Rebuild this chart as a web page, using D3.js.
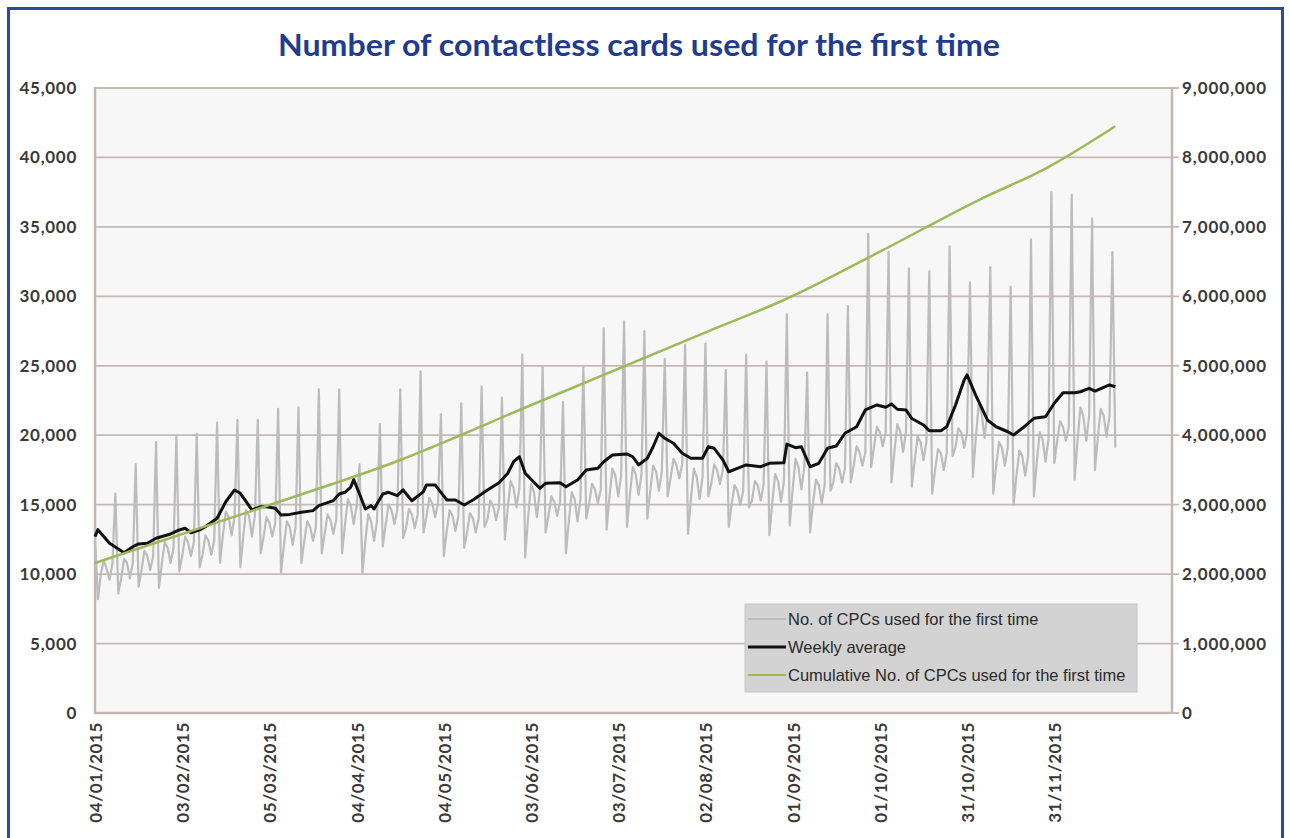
<!DOCTYPE html>
<html><head><meta charset="utf-8">
<script src="https://cdn.jsdelivr.net/npm/d3@7"></script>
<style>body{margin:0;background:#fff;} svg{display:block}</style>
</head><body><svg id="c" width="1290" height="838"></svg>
<script>
const titleText = "Number of contactless cards used for the first time";
const xTickDays = [0, 30, 60, 90, 120, 150, 180, 210, 240, 270, 300, 330];
const xTickLabels = ["04/01/2015","03/02/2015","05/03/2015","04/04/2015","04/05/2015","03/06/2015","03/07/2015","02/08/2015","01/09/2015","01/10/2015","31/10/2015","31/11/2015"];
const leftTicks = [0, 5000, 10000, 15000, 20000, 25000, 30000, 35000, 40000, 45000];
const rightTicks = [0, 1000000, 2000000, 3000000, 4000000, 5000000, 6000000, 7000000, 8000000, 9000000];
const legendLabels = ["No. of CPCs used for the first time", "Weekly average", "Cumulative No. of CPCs used for the first time"];

// daily number of CPCs used for the first time (one value per day from 04/01/2015)
const dailyValues = [
 12600, 8200, 10000, 11000, 10400, 9600, 10800,
 15800, 8600, 9700, 11100, 10800, 9700, 10800,
 17900, 9100, 10300, 11700, 11300, 10300, 11300,
 19500, 9000, 10800, 12300, 11900, 10800, 11900,
 19900, 10200, 11300, 12700, 12300, 11300, 12300,
 20100, 10500, 11400, 12800, 12400, 11400, 12400,
 20900, 10800, 12800, 14500, 14100, 12800, 14100,
 21100, 10500, 12700, 14600, 14200, 12700, 14200,
 21100, 11500, 12700, 14100, 13700, 12700, 13700,
 21900, 10100, 12100, 13800, 13400, 12100, 13400,
 22000, 10800, 12400, 13800, 13400, 12400, 13400,
 23300, 11500, 12900, 14300, 13900, 12900, 13900,
 23300, 11500, 13600, 15400, 14900, 13600, 14900,
 17900, 10100, 12400, 14300, 13800, 12400, 13800,
 20800, 12000, 13600, 15000, 14600, 13600, 14600,
 23300, 12600, 13300, 14700, 14300, 13300, 14300,
 24600, 13000, 14100, 15500, 15100, 14100, 15100,
 21500, 11300, 13100, 14600, 14200, 13100, 14200,
 22300, 11900, 13000, 14400, 14000, 13000, 14000,
 23500, 13400, 13900, 15300, 14900, 13900, 14900,
 22700, 12500, 14800, 16700, 16200, 14800, 16200,
 25800, 11200, 14100, 16500, 15900, 14100, 15900,
 24900, 13000, 14200, 15600, 15200, 14200, 15200,
 22400, 11500, 13800, 15900, 15400, 13800, 15400,
 24900, 14000, 15100, 16500, 16100, 15100, 16100,
 27700, 13200, 15600, 17600, 17100, 15600, 17100,
 28200, 13400, 15700, 17700, 17200, 15700, 17200,
 27500, 14000, 16000, 17800, 17400, 16000, 17400,
 25500, 15600, 16900, 18300, 17900, 16900, 17900,
 26500, 12900, 15400, 17600, 17000, 15400, 17000,
 26600, 15600, 16500, 17900, 17500, 16500, 17500,
 24700, 13400, 15000, 16400, 16000, 15000, 16000,
 25800, 14800, 15300, 16700, 16400, 15300, 16400,
 25300, 12800, 15200, 17200, 16700, 15200, 16700,
 28700, 13500, 16100, 18300, 17700, 16100, 17700,
 24500, 13000, 15100, 16800, 16400, 15100, 16400,
 28700, 16000, 16600, 18000, 17600, 16600, 17600,
 29300, 16600, 17800, 19200, 18800, 17800, 18800,
 34500, 17700, 19200, 20600, 20200, 19200, 20200,
 33200, 16600, 18800, 20800, 20300, 18800, 20300,
 32000, 16300, 18200, 19900, 19500, 18200, 19500,
 31800, 15800, 17500, 19000, 18700, 17500, 18700,
 33600, 18500, 19100, 20500, 20200, 19100, 20200,
 31000, 17000, 19800, 22200, 21600, 19800, 21600,
 32100, 15800, 17800, 19500, 19100, 17800, 19100,
 30700, 15000, 17100, 18900, 18500, 17100, 18500,
 34100, 15600, 18100, 20200, 19700, 18100, 19700,
 37500, 18000, 19600, 21000, 20600, 19600, 20600,
 37300, 16800, 19600, 22000, 21400, 19600, 21400,
 35600, 17500, 19900, 21900, 21400, 19900, 21400,
 33200, 19100
];

// weekly average, read at these day indexes
const avgDays = [0,1,5,10,13,15,18,21,26,29,31,33,36,38,42,45,48,50,54,57,59,62,64,67,71,75,77,82,84,86,88,89,91,93,95,96,99,101,104,106,109,113,114,117,121,124,127,130,135,139,142,144,146,148,153,155,160,162,166,169,173,175,178,183,185,187,190,192,194,196,199,202,205,209,211,213,216,218,221,224,229,232,237,238,241,243,244,246,249,252,255,258,262,265,269,272,274,276,279,281,285,287,291,293,296,299,300,303,307,310,314,316,319,323,327,330,333,337,339,342,344,347,349,351];
const avgValues = [12700,13200,12220,11540,11970,12170,12220,12580,12890,13180,13300,12980,13180,13410,14020,15210,16060,15820,14620,14850,14850,14740,14260,14300,14450,14570,14930,15290,15770,15890,16270,16800,15770,14690,14930,14690,15770,15890,15650,16060,15280,15940,16420,16420,15340,15340,14980,15340,16060,16580,17260,18090,18450,17260,16180,16540,16580,16290,16780,17500,17620,18090,18580,18650,18450,17860,18340,19170,20140,19780,19420,18700,18340,18340,19170,19060,18220,17370,17620,17860,17730,17980,18020,19360,19100,19170,18700,17730,17980,19060,19220,20140,20610,21820,22180,22010,22250,21870,21820,21200,20740,20330,20330,20610,22150,23980,24340,22870,21100,20610,20250,20020,20500,21220,21330,22300,23060,23060,23130,23380,23180,23450,23620,23490];

// cumulative number, read at these day indexes
const cumDays = [0, 67, 105, 115, 146, 215, 237, 270, 304, 327, 351];
const cumValues = [2160000, 3092000, 3643000, 3812000, 4363000, 5567000, 5947000, 6643000, 7387000, 7840000, 8450000];

const svg = d3.select('#c');
const X0 = 95, X1 = 1172, Y0 = 713, Y1 = 88;
const x = d3.scaleLinear().domain([0, 370.5]).range([X0, X1]);
const yL = d3.scaleLinear().domain([0, 45000]).range([Y0, Y1]);
const yR = d3.scaleLinear().domain([0, 9000000]).range([Y0, Y1]);
const fmt = d3.format(",");
const axisFont = 'Lato, sans-serif';

// outer frame
svg.append('rect').attr('x', 8.5).attr('y', 8.5).attr('width', 1274).attr('height', 860)
  .attr('fill', '#fff').attr('stroke', '#2b4a9b').attr('stroke-width', 3);

// title
svg.append('text').attr('x', 639).attr('y', 56).attr('text-anchor', 'middle')
  .attr('font-family', 'Lato, sans-serif').attr('font-weight', 'bold').attr('font-size', 30)
  .attr('textLength', 722).attr('lengthAdjust', 'spacingAndGlyphs')
  .attr('fill', '#1f3c8e').text(titleText);

// plot background
svg.append('rect').attr('x', X0).attr('y', Y1).attr('width', X1 - X0).attr('height', Y0 - Y1)
  .attr('fill', '#f7f7f7');

// gridlines + right ticks
svg.append('g').selectAll('line').data(leftTicks).join('line')
  .attr('x1', X0).attr('x2', X1 + 7)
  .attr('y1', d => yL(d)).attr('y2', d => yL(d))
  .attr('stroke', '#c6b8b4').attr('stroke-width', 1.8);

// axis lines
svg.append('line').attr('x1', X0).attr('x2', X0).attr('y1', Y1 - 1).attr('y2', Y0 + 1)
  .attr('stroke', '#c4b6b2').attr('stroke-width', 2.5);
svg.append('line').attr('x1', X1).attr('x2', X1).attr('y1', Y1 - 1).attr('y2', Y0 + 1)
  .attr('stroke', '#c4b6b2').attr('stroke-width', 2.5);
svg.append('line').attr('x1', X0).attr('x2', X1).attr('y1', Y0).attr('y2', Y0)
  .attr('stroke', '#c4b6b2').attr('stroke-width', 2.5);

// left labels
svg.append('g').selectAll('text').data(leftTicks).join('text')
  .attr('x', 77).attr('y', d => yL(d)).attr('dy', '0.35em').attr('text-anchor', 'end')
  .attr('font-family', axisFont).attr('font-weight', 'bold').attr('font-size', 17)
  .attr('letter-spacing', 0.7).attr('fill', '#3a3a3a')
  .text(d => fmt(d));
// right labels
svg.append('g').selectAll('text').data(rightTicks).join('text')
  .attr('x', 1182).attr('y', d => yR(d)).attr('dy', '0.35em').attr('text-anchor', 'start')
  .attr('font-family', axisFont).attr('font-weight', 'bold').attr('font-size', 17)
  .attr('letter-spacing', 0.9).attr('fill', '#3a3a3a')
  .text(d => fmt(d));
// x labels
svg.append('g').selectAll('text').data(xTickDays).join('text')
  .attr('transform', d => `translate(${x(d) + 1},722) rotate(-90)`)
  .attr('dy', '0.35em').attr('text-anchor', 'end')
  .attr('font-family', axisFont).attr('font-weight', 'bold').attr('font-size', 17)
  .attr('letter-spacing', 0.6).attr('fill', '#3a3a3a')
  .text((d, i) => xTickLabels[i]);

// series
const lineDaily = d3.line().x((d, i) => x(i)).y(d => yL(d));
svg.append('path').datum(dailyValues).attr('d', lineDaily)
  .attr('fill', 'none').attr('stroke', '#bcbcbc').attr('stroke-width', 2.2).attr('stroke-linejoin', 'round');

const lineAvg = d3.line().x((d, i) => x(avgDays[i])).y(d => yL(d));
svg.append('path').datum(avgValues).attr('d', lineAvg)
  .attr('fill', 'none').attr('stroke', '#111').attr('stroke-width', 3).attr('stroke-linejoin', 'round');

const lineCum = d3.line().x((d, i) => x(cumDays[i])).y(d => yR(d)).curve(d3.curveMonotoneX);
svg.append('path').datum(cumValues).attr('d', lineCum)
  .attr('fill', 'none').attr('stroke', '#9bbb59').attr('stroke-width', 2.5);

// legend
const lg = svg.append('g');
lg.append('rect').attr('x', 745).attr('y', 604).attr('width', 392).attr('height', 88)
  .attr('fill', '#d3d3d3').attr('stroke', '#c6c6c6');
const legColors = ['#bcbcbc', '#111', '#9bbb59'];
const legWidths = [2, 3, 2];
legendLabels.forEach((t, i) => {
  const yy = 619 + i * 28;
  lg.append('line').attr('x1', 748).attr('x2', 786).attr('y1', yy).attr('y2', yy)
    .attr('stroke', legColors[i]).attr('stroke-width', legWidths[i]);
  lg.append('text').attr('x', 788).attr('y', yy).attr('dy', '0.35em')
    .attr('font-family', 'Liberation Sans, Arial, sans-serif').attr('font-size', 16.5)
    .attr('fill', '#2a2a2a').text(t);
});
</script></body></html>
